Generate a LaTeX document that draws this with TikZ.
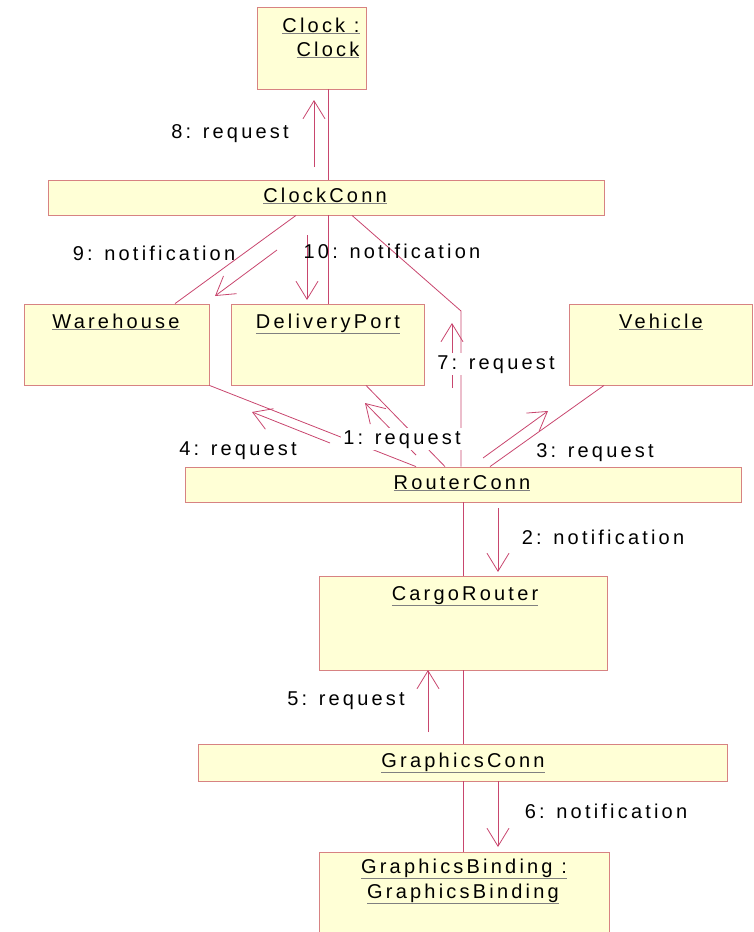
\documentclass[tikz,border=0pt]{standalone}
\usepackage{fontspec}
\setmainfont{Liberation Sans}[LetterSpace=16]
\usetikzlibrary{arrows.meta,calc}
\definecolor{linec}{RGB}{200,70,110}
\definecolor{boxc}{RGB}{215,130,130}
\definecolor{fillc}{RGB}{255,255,214}
\newcommand{\ulname}[1]{{\color{gray}\underline{\color{black}#1}}}
\begin{document}
\begin{tikzpicture}[x=1pt,y=-1pt,
  font=\fontsize{20}{24}\selectfont,
  box/.style={draw=boxc, fill=fillc, line width=0.8pt, inner sep=0pt},
  nametext/.style={anchor=base, inner sep=0pt},
  conn/.style={draw=linec, line width=0.8pt},
  msg/.style={draw=linec, line width=0.8pt, -{Straight Barb[length=18pt,width=22pt]}},
  lbl/.style={anchor=base, inner sep=1pt},
  lblw/.style={lbl, fill=white, inner sep=2pt}]
\clip (0,0) rectangle (754,932);
% boxes
\node[box, minimum width=109pt, minimum height=82pt] (clock) at (311.5,48) {};
\node[box, minimum width=556pt, minimum height=35pt] (clockconn) at (326,197.5) {};
\node[box, minimum width=185pt, minimum height=81pt] (warehouse) at (116.5,344.5) {};
\node[box, minimum width=193pt, minimum height=81pt] (delivery) at (327.5,344.5) {};
\node[box, minimum width=183pt, minimum height=81pt] (vehicle) at (660.5,344.5) {};
\node[box, minimum width=556pt, minimum height=35pt] (routerconn) at (463,484.5) {};
\node[box, minimum width=288pt, minimum height=94pt] (cargorouter) at (463,623) {};
\node[box, minimum width=529pt, minimum height=37pt] (graphicsconn) at (462.5,762.5) {};
\node[box, minimum width=290pt, minimum height=96pt] (graphicsbinding) at (464,900) {};
% names
\node[nametext] (clock-t1) at (321,32) {\ulname{Clock :}};
\node[nametext] (clock-t2) at (328,56) {\ulname{Clock}};
\node[nametext] (clockconn-t) at (325,202) {\ulname{ClockConn}};
\node[nametext] (warehouse-t) at (116,328) {\ulname{Warehouse}};
\node[nametext] (delivery-t) at (328,328) {\ulname{DeliveryPort}};
\node[nametext] (vehicle-t) at (661,328) {\ulname{Vehicle}};
\node[nametext] (routerconn-t) at (462,489) {\ulname{RouterConn}};
\node[nametext] (cargorouter-t) at (465,600) {\ulname{CargoRouter}};
\node[nametext] (graphicsconn-t) at (463,767) {\ulname{GraphicsConn}};
\node[nametext] (graphicsbinding-t1) at (464,873) {\ulname{GraphicsBinding :}};
\node[nametext] (graphicsbinding-t2) at (463,898) {\ulname{GraphicsBinding}};
% links
\draw[conn] ([xshift=16.5pt]clock.south) -- ([xshift=2pt]clockconn.north);
\draw[conn] ([xshift=-30pt]clockconn.south) -- ([xshift=58.5pt]warehouse.north);
\draw[conn] ([xshift=2pt]clockconn.south) -- ([xshift=0.5pt]delivery.north);
\coordinate (kink) at (461,311);
\draw[conn] ([xshift=26pt]clockconn.south) -- (kink) -- ([xshift=-2pt]routerconn.north);
\draw[conn] ([xshift=-56.5pt]vehicle.south) -- ([xshift=27pt]routerconn.north);
\draw[conn] (warehouse.south east) -- ([xshift=-47pt]routerconn.north);
\draw[conn] ([xshift=38.5pt]delivery.south) -- ([xshift=-18pt]routerconn.north);
\draw[conn] (routerconn.south) -- (cargorouter.north);
\draw[conn] (cargorouter.south) -- ([xshift=0.5pt]graphicsconn.north);
\draw[conn] ([xshift=0.5pt]graphicsconn.south) -- ([xshift=-1pt]graphicsbinding.north);
% messages
\coordinate (m8a) at (314,167); \coordinate (m8b) at (314,100);
\coordinate (m9a) at (277,250); \coordinate (m9b) at (215,296);
\coordinate (m10a) at (307,235); \coordinate (m10b) at (307,300);
\coordinate (m7a) at (452,388); \coordinate (m7b) at (452,323);
\coordinate (m4a) at (330,443); \coordinate (m4b) at (252,412);
\coordinate (m1a) at (416,455); \coordinate (m1b) at (365,403);
\coordinate (m3a) at (483,458); \coordinate (m3b) at (548,411);
\coordinate (m2a) at (498,508); \coordinate (m2b) at (498,572);
\coordinate (m5a) at (428,732); \coordinate (m5b) at (428,670);
\coordinate (m6a) at (498,781); \coordinate (m6b) at (498,847);
\draw[msg] (m8a) -- (m8b);
\draw[msg] (m9a) -- (m9b);
\draw[msg] (m10a) -- (m10b);
\draw[msg] (m7a) -- (m7b);
\draw[msg] (m4a) -- (m4b);
\draw[msg] (m1a) -- (m1b);
\draw[msg] (m3a) -- (m3b);
\draw[msg] (m2a) -- (m2b);
\draw[msg] (m5a) -- (m5b);
\draw[msg] (m6a) -- (m6b);
% labels
\node[lbl] (l8) at (230,138) {8: request};
\node[lbl] (l9) at (154,260) {9: notification};
\node[lbl] (l10) at (392,258) {10: notification};
\node[lblw] (l7) at (496,369) {7: request};
\node[lbl] (l4) at (238,455) {4: request};
\node[lblw] (l1) at (402,444) {1: request};
\node[lbl] (l3) at (595,457) {3: request};
\node[lbl] (l2) at (603,544) {2: notification};
\node[lbl] (l5) at (346,705) {5: request};
\node[lbl] (l6) at (606,818) {6: notification};
\end{tikzpicture}
\end{document}
